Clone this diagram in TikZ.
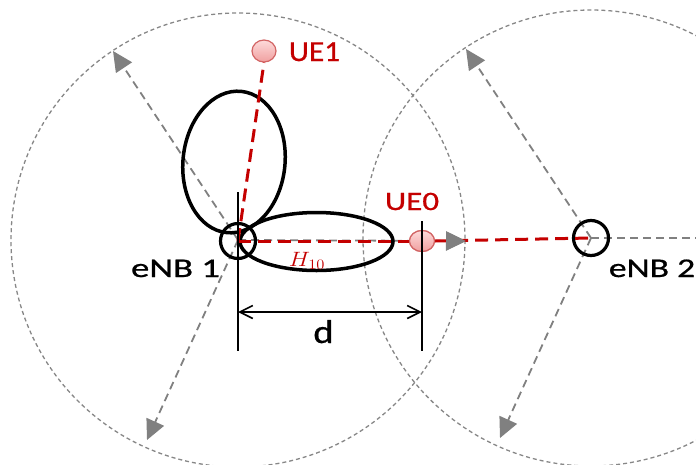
\documentclass[tikz,border=0pt]{standalone}
\usepackage{fontspec}
\usepackage{graphicx}
\setmainfont{Carlito}
\newfontfamily\lblfont{Carlito}[FakeBold=0.7]
\usetikzlibrary{arrows.meta,shapes.geometric,calc}
\definecolor{dkred}{RGB}{196,0,0}
\definecolor{cellgray}{RGB}{135,135,135}
\definecolor{arrgray}{RGB}{128,128,128}
\definecolor{uefill}{RGB}{240,160,160}
\definecolor{uetop}{RGB}{253,218,218}
\definecolor{uedraw}{RGB}{210,100,100}
\tikzset{
  cell/.style={draw=cellgray, line width=1.3pt, dash pattern=on 4pt off 3pt},
  sector/.style={draw=arrgray, line width=1.8pt, dash pattern=on 8pt off 5pt,
    -{Triangle[length=20pt,width=19pt]}, arrgray},
  sectorline/.style={draw=arrgray, line width=1.8pt, dash pattern=on 8pt off 5pt},
  beam/.style={draw=black, line width=3.5pt},
  enb/.style={circle, draw=black, line width=3.2pt, minimum size=35pt, inner sep=0pt},
  link/.style={draw=dkred, line width=3pt, dash pattern=on 13pt off 7pt},
  uedot/.style={ellipse, draw=uedraw, line width=1.2pt, top color=uetop, bottom color=uefill,
    inner sep=0pt},
  dimline/.style={draw=black, line width=1.6pt},
  dimarrow/.style={draw=black, line width=1.6pt,
    {Straight Barb[length=13pt,width=13pt]}-{Straight Barb[length=13pt,width=13pt]}},
  lbl/.style={inner sep=0pt, anchor=base},
}
\begin{document}
\begin{tikzpicture}[x=1pt,y=-1pt]
\useasboundingbox (0,0) rectangle (696,464);
\clip (0,0) rectangle (696,464);
% cell borders
\coordinate (c1) at (238,240);
\coordinate (c2) at (591,238);
\draw[cell] (c1) circle [radius=227];
\draw[cell] (c2) circle [radius=228];
% sector arrows
\draw[sector] (c1) -- ($(c1)+(-125,-189)$);
\draw[sector] (c1) -- ($(c1)+(-91,200)$);
\draw[sector] (c1) -- ($(c1)+(228,1)$);
\draw[sector] (c2) -- ($(c2)+(-125,-189)$);
\draw[sector] (c2) -- ($(c2)+(-91,200)$);
\draw[sectorline] (c2) -- ($(c2)+(120,0)$);
% beams
\draw[beam, rotate around={-6:(234,162)}] (234,162) ellipse [x radius=51, y radius=71];
\draw[beam] (316.5,241.5) ellipse [x radius=76.5, y radius=29];
% base stations and UEs
\node[enb] (enb1) at (238,241) {};
\node[enb] (enb2) at (591,238) {};
\node[uedot, minimum width=24pt, minimum height=22pt] (ue1) at (264,51) {};
\node[uedot, minimum width=25pt, minimum height=21pt] (ue0) at (422,241) {};
% links
\draw[link] (enb1.center) -- (ue1.south);
\draw[link] (enb1.center) -- (ue0.west);
\draw[link] (ue0.east) -- (enb2.center);
% tip of eNB1 right arrow above link
\draw[arrgray, line width=1.8pt, -{Triangle[length=20pt,width=19pt]}] ($(c1)+(220,1)$) -- ($(c1)+(228,1)$);
\node[uedot, minimum width=25pt, minimum height=21pt] at (ue0) {};
% dimension
\coordinate (d1t) at (238,192);
\coordinate (d1b) at (238,351);
\coordinate (d2t) at (422,221);
\coordinate (d2b) at (422,351);
\coordinate (a1) at (238,312);
\coordinate (a2) at (422,312);
\draw[dimline] (d1t) -- (d1b);
\draw[dimline] (d2t) -- (d2b);
\draw[dimarrow] (a1) -- (a2);
% labels
\node[lbl] (l1) at (175.5,277) {\lblfont\fontsize{27}{30}\selectfont\scalebox{1.36}[1]{eNB 1}};
\node[lbl] (l2) at (652,277) {\lblfont\fontsize{27}{30}\selectfont\scalebox{1.32}[1]{eNB 2}};
\node[lbl, text=dkred] (l3) at (412,210) {\lblfont\fontsize{26.5}{30}\selectfont\scalebox{1.25}[1]{UE0}};
\node[lbl, text=dkred] (l4) at (314.5,61) {\lblfont\fontsize{29}{32}\selectfont\scalebox{1.08}[1]{UE1}};
\node[lbl] (l5) at (323.5,343) {\lblfont\fontsize{33}{36}\selectfont\scalebox{1.17}[1]{d}};
\node[lbl, text=dkred] (l6) at (307,266) {\fontsize{22}{24}\selectfont\scalebox{1.15}[1]{$H_{10}$}};
\end{tikzpicture}
\end{document}
